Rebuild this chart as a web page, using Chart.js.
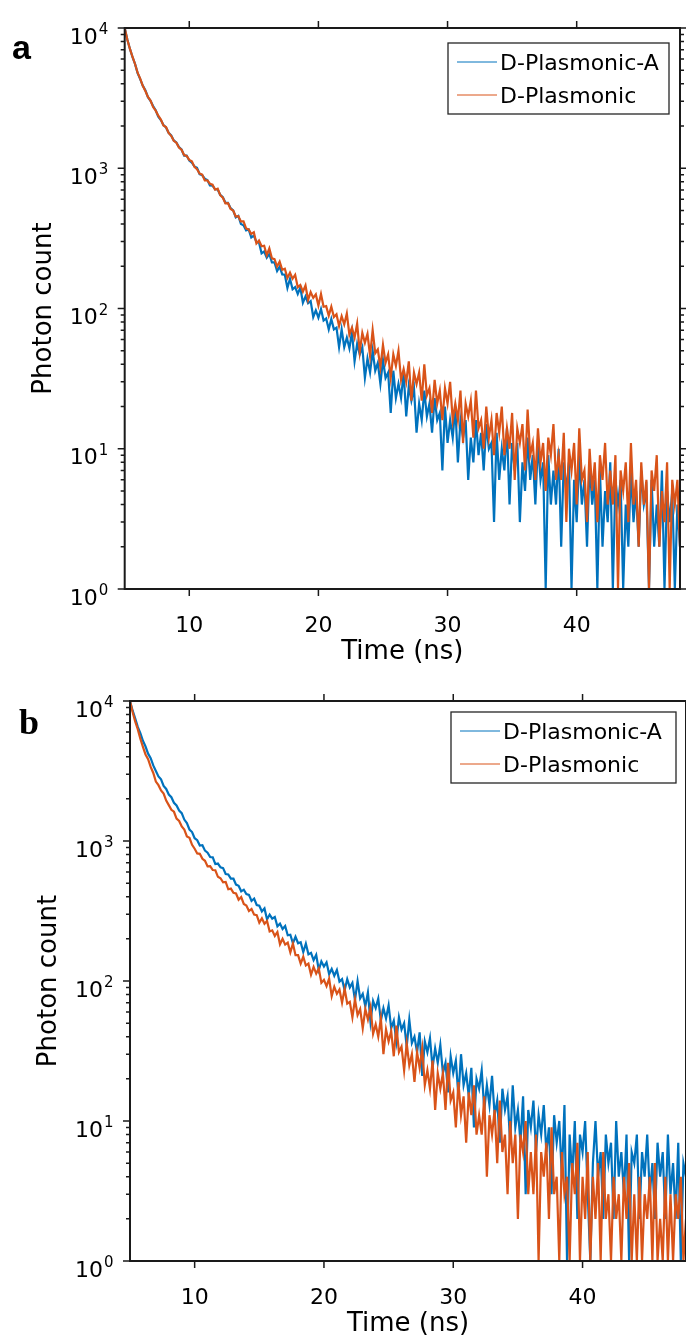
<!DOCTYPE html>
<html>
<head>
<meta charset="utf-8">
<script src="https://cdn.jsdelivr.net/npm/chart.js@4.4.1/dist/chart.umd.min.js"></script>
<style>
  html, body { margin: 0; padding: 0; background: #fff; }
  #page { position: relative; width: 686px; height: 1344px; overflow: hidden; background: #fff; }
  .panel { position: absolute; left: 0; width: 686px; height: 672px; }
  .panel canvas { display: block; }
  .tag { position: absolute; font-weight: bold; color: #000; line-height: 1; }
  #tag-a { left: 12px; top: 30px; font-family: "Liberation Sans", Arial, sans-serif; font-size: 34px; }
  #tag-b { left: 19px; top: 704px; font-family: "Liberation Serif", "Times New Roman", serif; font-size: 36px; }
</style>
</head>
<body>
<div id="page">
  <div class="panel" style="top:0"><canvas id="chart-a" width="686" height="672"></canvas></div>
  <div class="panel" style="top:672px"><canvas id="chart-b" width="686" height="672"></canvas></div>
  <div class="tag" id="tag-a">a</div>
  <div class="tag" id="tag-b">b</div>
</div>
<script>
// TCSPC decay curves, channel grid 5 ns .. 48 ns, 0.2 ns per channel
const T_START = 5;
const T_STEP = 0.2;
const X_MIN = 5, X_MAX = 48;
const X_TICKS = [10, 20, 30, 40];
const Y_DECADES = [1, 10, 100, 1000, 10000];
const Y_MINOR = [2, 3, 4, 5, 6, 7, 8, 9];
const SERIES_NAMES = ['D-Plasmonic-A', 'D-Plasmonic'];
const COLORS = ['#0072BD', '#D95319'];
const FONT = '"DejaVu Sans", "Liberation Sans", sans-serif';

// panel a
const aPlasmonicA = [
  10000, 8300, 7120, 6220, 5550,  4770, 4320, 3880, 3600, 3210,
  3020, 2775, 2590, 2335, 2205,  2030, 1955, 1791, 1714, 1578,
  1529, 1418, 1361, 1230, 1232,  1133, 1096, 1030, 1009, 908,
  893, 842, 825, 755, 752,  708, 706, 645, 623, 567,
  567, 519, 501, 446, 458,  400, 392, 360, 366, 321,
  331, 298, 296, 247, 255,  230, 245, 213, 213, 185,
  199, 175, 174, 140, 163,  137, 142, 127, 141, 110,
  122, 109, 113, 87, 97,  86, 99, 82, 85, 71,
  84, 71, 73, 53, 71,  53, 62, 52, 68, 42,
  56, 47, 53, 32, 44,  35, 50, 36, 41, 29,
  43, 32, 35, 18, 36,  23, 29, 23, 35, 17,
  28, 22, 27, 13, 21,  16, 26, 17, 21, 13,
  23, 16, 18, 7, 20,  11, 16, 12, 20, 8,
  16, 12, 16, 6, 12,  8, 16, 9, 13, 7,
  15, 10, 11, 3, 13,  6, 10, 7, 14, 4,
  11, 7, 11, 3, 8,  5, 12, 6, 9, 4,
  11, 6, 8, 0, 9,  4, 7, 4, 10, 2,
  8, 5, 8, 1, 6,  3, 9, 4, 6, 2,
  8, 4, 6, 0, 7,  2, 5, 3, 8, 1,
  6, 4, 6, 0, 4,  2, 7, 3, 5, 2,
  7, 4, 5, 0, 6,  2, 4, 2, 7, 1,
  5, 3, 5, 0, 4,  2
];
const aPlasmonic = [
  10000, 8270, 7120, 6240, 5540,  4800, 4360, 3870, 3555, 3225,
  3040, 2730, 2575, 2370, 2225,  2020, 1970, 1788, 1702, 1570,
  1522, 1406, 1358, 1242, 1226,  1147, 1120, 1022, 983, 916,
  901, 818, 819, 775, 764,  703, 714, 643, 616, 562,
  563, 512, 500, 453, 455,  418, 418, 372, 366, 340,
  350, 291, 305, 278, 280,  240, 268, 228, 225, 199,
  216, 189, 192, 165, 180,  163, 174, 142, 147, 132,
  146, 115, 131, 119, 126,  105, 127, 103, 104, 89,
  103, 87, 91, 75, 88,  77, 92, 65, 73, 62,
  78, 49, 67, 57, 66,  46, 70, 48, 51, 38,
  55, 41, 47, 32, 47,  39, 50, 31, 37, 30,
  42, 22, 35, 29, 35,  22, 40, 24, 27, 18,
  31, 21, 26, 16, 27,  21, 30, 16, 21, 16,
  26, 11, 21, 17, 22,  12, 26, 14, 16, 10,
  20, 12, 16, 9, 18,  13, 20, 9, 14, 10,
  18, 6, 14, 11, 15,  7, 19, 9, 11, 6,
  14, 8, 11, 5, 12,  9, 15, 6, 9, 6,
  13, 3, 10, 7, 11,  4, 14, 6, 7, 3,
  10, 5, 8, 3, 9,  6, 11, 4, 7, 4,
  9, 1, 7, 5, 8,  3, 11, 4, 6, 2,
  8, 4, 6, 1, 7,  5, 9, 2, 5, 3,
  8, 1, 6, 4, 6,  2
];

// panel b
const bPlasmonicA = [
  10000, 8560, 7510, 6530, 5890,  5195, 4730, 4205, 3910, 3465,
  3160, 2895, 2755, 2475, 2355,  2148, 2054, 1876, 1794, 1652,
  1581, 1423, 1343, 1208, 1158,  1047, 1014, 928, 933, 853,
  825, 769, 765, 684, 690,  648, 640, 581, 577, 539,
  538, 488, 479, 437, 449,  418, 412, 373, 388, 349,
  345, 314, 330, 275, 298,  279, 287, 246, 257, 235,
  247, 212, 214, 186, 207,  186, 189, 161, 185, 155,
  159, 141, 154, 120, 138,  127, 136, 112, 122, 109,
  120, 99, 103, 86, 103,  90, 97, 73, 100, 75,
  81, 66, 83, 51, 72,  64, 75, 52, 64, 54,
  67, 46, 52, 37, 55,  45, 50, 34, 53, 36,
  40, 31, 43, 21, 37,  31, 39, 24, 33, 26,
  35, 22, 26, 16, 29,  22, 27, 15, 30, 18,
  22, 15, 24, 9, 20,  17, 23, 12, 18, 13,
  21, 11, 14, 7, 17,  12, 15, 7, 18, 9,
  12, 7, 15, 3, 12,  9, 14, 6, 11, 8,
  13, 6, 9, 3, 11,  7, 10, 4, 13, 1,
  8, 4, 10, 2, 8,  6, 10, 3, 0, 5,
  10, 4, 6, 2, 8,  5, 7, 2, 10, 4,
  6, 3, 8, 1, 6,  5, 8, 2, 6, 4,
  8, 3, 5, 2, 7,  4, 6, 2, 8, 3,
  5, 2, 7, 1, 5,  4
];
const bPlasmonic = [
  10000, 8350, 7150, 6290, 5380,  4705, 4150, 3835, 3380, 3060,
  2660, 2505, 2295, 2180, 1945,  1804, 1672, 1618, 1444, 1391,
  1273, 1208, 1078, 1055, 940,  881, 815, 810, 746, 722,
  659, 662, 620, 618, 555,  542, 507, 510, 452, 457,
  426, 422, 381, 398, 355,  346, 316, 327, 298, 295,
  261, 280, 256, 268, 226,  230, 210, 224, 183, 200,
  182, 188, 160, 185, 153,  153, 133, 149, 129, 133,
  111, 126, 113, 123, 97,  102, 92, 104, 78, 91,
  81, 87, 70, 88, 69,  71, 55, 74, 57, 63,
  46, 63, 53, 65, 42,  49, 40, 54, 30, 45,
  37, 44, 29, 48, 31,  34, 23, 36, 25, 30,
  19, 31, 24, 33, 18,  23, 17, 27, 12, 22,
  17, 22, 12, 26, 14,  16, 9, 19, 11, 15,
  7, 16, 11, 18, 8,  11, 8, 15, 4, 11,
  8, 12, 5, 14, 6,  8, 3, 10, 5, 8,
  2, 8, 6, 10, 3,  6, 3, 8, 1, 6,
  4, 7, 2, 9, 3,  4, 1, 6, 3, 4,
  1, 5, 3, 7, 1,  4, 2, 6, 0, 4,
  2, 5, 1, 6, 2,  3, 0, 4, 2, 3,
  0, 4, 2, 5, 1,  3, 1, 4, 0, 3,
  2, 4, 0, 5, 1,  2, 0, 4, 1, 3,
  0, 3, 2, 4, 1,  2
];

const toPoints = (arr) => arr.map((v, i) => ({ x: T_START + i * T_STEP, y: v }));

// box, outward ticks, superscript decade labels and the legend
const panelDecor = {
  id: 'panelDecor',
  afterDatasetsDraw(chart, args, opts) {
    const { ctx, chartArea: a } = chart;
    const xs = chart.scales.x;
    const ys = chart.scales.y;
    ctx.save();

    ctx.strokeStyle = '#1a1a1a';
    ctx.lineWidth = 2;
    ctx.strokeRect(a.left, a.top, a.right - a.left, a.bottom - a.top);

    ctx.lineWidth = 1.5;
    ctx.beginPath();
    X_TICKS.forEach((v) => {
      const px = xs.getPixelForValue(v);
      ctx.moveTo(px, a.bottom); ctx.lineTo(px, a.bottom + 7);
      ctx.moveTo(px, a.top); ctx.lineTo(px, a.top - 7);
    });
    const yTick = (py, len) => {
      ctx.moveTo(a.left, py); ctx.lineTo(a.left - len, py);
      ctx.moveTo(a.right, py); ctx.lineTo(a.right + len, py);
    };
    Y_DECADES.forEach((d, k) => {
      yTick(ys.getPixelForValue(d), 7);
      if (k < Y_DECADES.length - 1) Y_MINOR.forEach((m) => yTick(ys.getPixelForValue(d * m), 4));
    });
    ctx.stroke();

    // decade labels 10^n
    ctx.fillStyle = '#000';
    Y_DECADES.forEach((d) => {
      const py = ys.getPixelForValue(d);
      ctx.font = `22px ${FONT}`;
      ctx.textAlign = 'right';
      ctx.textBaseline = 'alphabetic';
      ctx.fillText('10', a.left - 27, py + 15.5);
      ctx.font = `15px ${FONT}`;
      ctx.textAlign = 'left';
      ctx.fillText(String(Math.round(Math.log10(d))), a.left - 26, py + 6);
    });

    // legend
    const lw = opts.legendWidth, lh = 71;
    const lx = a.right - opts.legendRight - lw;
    const ly = a.top + opts.legendTop;
    ctx.fillStyle = '#fff';
    ctx.fillRect(lx, ly, lw, lh);
    ctx.strokeStyle = '#262626';
    ctx.lineWidth = 1.3;
    ctx.strokeRect(lx, ly, lw, lh);
    chart.data.datasets.forEach((ds, i) => {
      const ry = ly + 19 + i * 33;
      ctx.strokeStyle = ds.borderColor;
      ctx.lineWidth = 1;
      ctx.beginPath();
      ctx.moveTo(lx + 9, ry); ctx.lineTo(lx + 49, ry);
      ctx.stroke();
      ctx.fillStyle = '#000';
      ctx.font = `22px ${FONT}`;
      ctx.textAlign = 'left';
      ctx.fillText(ds.label, lx + 52, ry + 8);
    });
    ctx.restore();
  }
};

function makeChart(id, seriesA, seriesP, cfg) {
  const ctx = document.getElementById(id).getContext('2d');
  return new Chart(ctx, {
    type: 'line',
    data: {
      datasets: [
        { label: SERIES_NAMES[0], data: toPoints(seriesA), borderColor: COLORS[0], borderWidth: 2.2, pointRadius: 0, order: 2 },
        { label: SERIES_NAMES[1], data: toPoints(seriesP), borderColor: COLORS[1], borderWidth: 2.2, pointRadius: 0, order: 1 },
      ],
    },
    options: {
      responsive: false,
      animation: false,
      devicePixelRatio: 1,
      parsing: false,
      normalized: true,
      events: [],
      layout: { padding: { top: cfg.top, right: cfg.right, bottom: 0, left: 0 } },
      plugins: {
        legend: { display: false },
        tooltip: { enabled: false },
        panelDecor: { legendRight: cfg.legendRight, legendTop: cfg.legendTop, legendWidth: cfg.legendWidth },
      },
      scales: {
        x: {
          type: 'linear',
          min: X_MIN,
          max: X_MAX,
          grid: { display: false },
          border: { display: false },
          afterBuildTicks: (s) => { s.ticks = X_TICKS.map((v) => ({ value: v })); },
          afterFit: (s) => { s.height = 83; },
          ticks: { color: '#000', font: { family: FONT, size: 22 }, padding: 16, maxRotation: 0 },
          title: { display: true, text: 'Time (ns)', color: '#000', font: { family: FONT, size: 26 }, padding: { top: 0, bottom: 4 } },
        },
        y: {
          type: 'logarithmic',
          min: 1,
          max: 10000,
          grid: { display: false },
          border: { display: false },
          ticks: { display: false },
          afterFit: (s) => { s.width = cfg.left; },
          title: { display: true, text: 'Photon count', color: '#000', font: { family: FONT, size: 26 }, padding: { top: cfg.titlePad, bottom: 0 } },
        },
      },
    },
    plugins: [panelDecor],
  });
}

makeChart('chart-a', aPlasmonicA, aPlasmonic, { top: 28, right: 6, left: 124.7, titlePad: 29, legendRight: 11, legendTop: 15, legendWidth: 221 });
makeChart('chart-b', bPlasmonicA, bPlasmonic, { top: 29, right: 0, left: 130, titlePad: 34, legendRight: 10, legendTop: 11, legendWidth: 225 });
</script>
</body>
</html>
